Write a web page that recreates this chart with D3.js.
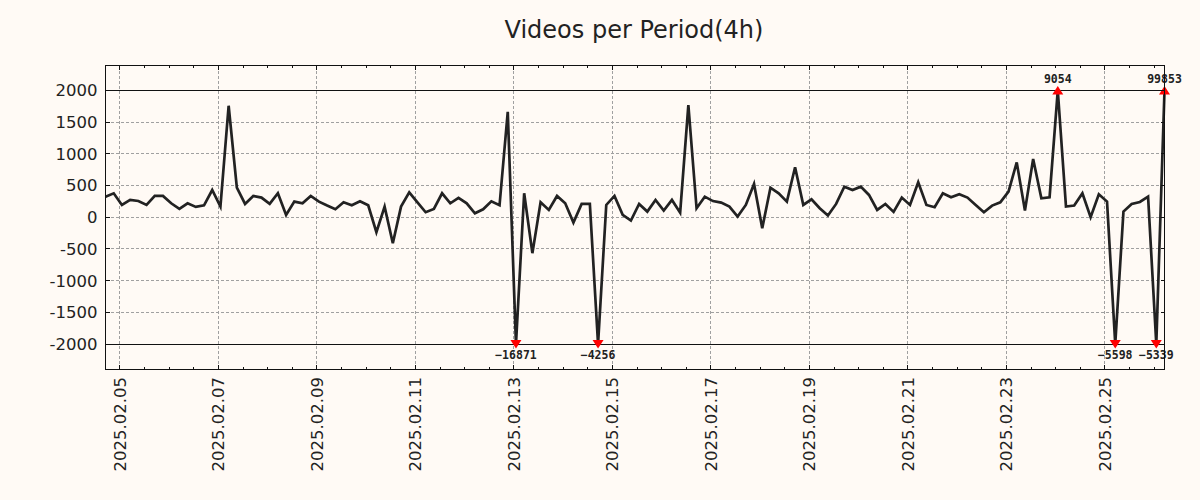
<!DOCTYPE html>
<html>
<head>
<meta charset="utf-8">
<script src="https://cdn.jsdelivr.net/npm/d3@7/dist/d3.min.js"></script>
<style>
  html, body { margin: 0; padding: 0; background: #fffaf5; }
  svg { display: block; }
</style>
</head>
<body>
<div id="chart"></div>
<script>
// ---- data ----
const title = "Videos per Period(4h)";
const startTime = "2025-02-04T17:00:00Z";   // first 4h period
const periodHours = 4;
const values = [
  325, 378, 194, 273, 257, 194, 336, 336, 220, 131,
  220, 163, 189, 430, 168, 1759, 467, 210, 336, 310,
  210, 378, 37, 247, 220, 336, 247, 184, 126, 236,
  189, 252, 189, -236, 168, -410, 168, 394, 236, 79,
  131, 378, 220, 304, 220, 63, 126, 252, 189, 1664,
  -16871, 378, -567, 236, 115, 336, 220, -84, 210, 210,
  -4256, 194, 336, 37, -52, 210, 89, 273, 105, 273,
  73, 1769, 142, 325, 255, 231, 168, 10, 194, 525,
  -173, 467, 378, 247, 788, 194, 283, 142, 26, 210,
  483, 430, 483, 352, 115, 210, 84, 310, 194, 551,
  194, 158, 378, 315, 362, 310, 194, 79, 184, 236,
  404, 866, 105, 919, 299, 315, 9054, 168, 184, 378,
  0, 362, 247, -5598, 89, 210, 241, 325, -5339, 99853
];
const clipLimit = 2000;
const yTicks = [-2000, -1500, -1000, -500, 0, 500, 1000, 1500, 2000];
const yDomain = [-2394, 2394];

// ---- layout ----
const W = 1200, H = 500;
const m = { left: 105.5, right: 35.5, top: 65.5, bottom: 131 };
const iw = W - m.left - m.right, ih = H - m.top - m.bottom;

const t0 = new Date(startTime);
const data = values.map((v, i) => ({
  t: new Date(t0.getTime() + i * periodHours * 3600 * 1000),
  v: v,
  c: Math.max(-clipLimit, Math.min(clipLimit, v))
}));

const svg = d3.select("#chart").append("svg")
  .attr("width", W).attr("height", H)
  .style("background", "#fffaf5");

const x = d3.scaleUtc().domain(d3.extent(data, d => d.t)).range([0, iw]);
const y = d3.scaleLinear().domain(yDomain).range([ih, 0]);

const g = svg.append("g").attr("transform", `translate(${m.left},${m.top})`);

// title
svg.append("text")
  .attr("x", m.left + iw / 2 - 1).attr("y", 37.5)
  .attr("text-anchor", "middle")
  .style("font-family", "DejaVu Sans")
  .style("font-size", "24px")
  .style("fill", "#222")
  .text(title);

const majorX = x.ticks(d3.utcDay.every(2));
const minorX = x.ticks(d3.utcHour.every(12));

// grid
const grid = g.append("g").attr("shape-rendering", "crispEdges");
grid.selectAll(".gx").data(majorX).join("line")
  .attr("x1", d => Math.round(x(d))).attr("x2", d => Math.round(x(d)))
  .attr("y1", 0).attr("y2", ih)
  .attr("stroke", "#a0a0a0").attr("stroke-width", 1).attr("stroke-dasharray", "3,2");
grid.selectAll(".gy").data(yTicks).join("line")
  .attr("x1", 0).attr("x2", iw)
  .attr("y1", d => Math.round(y(d))).attr("y2", d => Math.round(y(d)))
  .attr("stroke", "#a0a0a0").attr("stroke-width", 1).attr("stroke-dasharray", "3,2");

// clip reference lines
g.selectAll(".hl").data([clipLimit, -clipLimit]).join("line")
  .attr("shape-rendering", "crispEdges")
  .attr("x1", 0).attr("x2", iw)
  .attr("y1", d => Math.round(y(d))).attr("y2", d => Math.round(y(d)))
  .attr("stroke", "#111").attr("stroke-width", 1);

// data line
g.append("path").datum(data)
  .attr("fill", "none").attr("stroke", "#222").attr("stroke-width", 2.7)
  .attr("stroke-linejoin", "miter").attr("stroke-miterlimit", 4)
  .attr("d", d3.line().x(d => x(d.t)).y(d => y(d.c)));

// clipped markers + labels
const clipped = data.filter(d => Math.abs(d.v) > clipLimit);
g.selectAll(".mk").data(clipped).join("path")
  .attr("fill", "#f00")
  .attr("d", d => {
    const px = x(d.t), py = y(d.c);
    return d.v > 0
      ? `M${px - 5.5},${py + 4}L${px + 5.5},${py + 4}L${px},${py - 4.5}Z`
      : `M${px - 5.5},${py - 4}L${px + 5.5},${py - 4}L${px},${py + 4.5}Z`;
  });
g.selectAll(".lb").data(clipped).join("text")
  .attr("x", d => x(d.t))
  .attr("y", d => d.v > 0 ? y(d.c) - 7.5 : y(d.c) + 14.5)
  .attr("text-anchor", "middle")
  .style("font-family", "DejaVu Sans Mono")
  .style("font-weight", "bold")
  .style("font-size", "11.5px")
  .style("fill", "#222")
  .text(d => String(d.v).replace("-", "\u2212"));

// frame
g.append("rect").attr("x", 0).attr("y", 0).attr("width", iw).attr("height", ih)
  .attr("fill", "none").attr("stroke", "#111").attr("stroke-width", 1)
  .attr("shape-rendering", "crispEdges");

// ticks (inward, all four sides)
const tk = g.append("g").attr("stroke", "#111").attr("stroke-width", 1).attr("shape-rendering", "crispEdges");
const majorSet = new Set(majorX.map(d => +d));
const minorOnly = minorX.filter(d => !majorSet.has(+d));
[[0, 1], [ih, -1]].forEach(([yy, dir]) => {
  tk.selectAll(null).data(majorX).join("line")
    .attr("x1", d => Math.round(x(d))).attr("x2", d => Math.round(x(d)))
    .attr("y1", yy).attr("y2", yy + dir * 4);
  tk.selectAll(null).data(minorOnly).join("line")
    .attr("x1", d => Math.round(x(d))).attr("x2", d => Math.round(x(d)))
    .attr("y1", yy).attr("y2", yy + dir * 2.5);
});
[[0, 1], [iw, -1]].forEach(([xx, dir]) => {
  tk.selectAll(null).data(yTicks).join("line")
    .attr("y1", d => Math.round(y(d))).attr("y2", d => Math.round(y(d)))
    .attr("x1", xx).attr("x2", xx + dir * 4);
});

// tick labels
const fmt = d3.utcFormat("%Y.%m.%d");
g.selectAll(".xl").data(majorX).join("text")
  .attr("transform", d => `translate(${x(d)},${ih + 8}) rotate(-90)`)
  .attr("text-anchor", "end")
  .attr("dy", "0.36em")
  .style("font-family", "DejaVu Sans")
  .style("font-size", "16.5px")
  .style("fill", "#222")
  .text(d => fmt(d));
g.selectAll(".yl").data(yTicks).join("text")
  .attr("x", -8).attr("y", d => y(d))
  .attr("text-anchor", "end").attr("dy", "0.36em")
  .style("font-family", "DejaVu Sans")
  .style("font-size", "16.5px")
  .style("fill", "#222")
  .text(d => d);
</script>
</body>
</html>
